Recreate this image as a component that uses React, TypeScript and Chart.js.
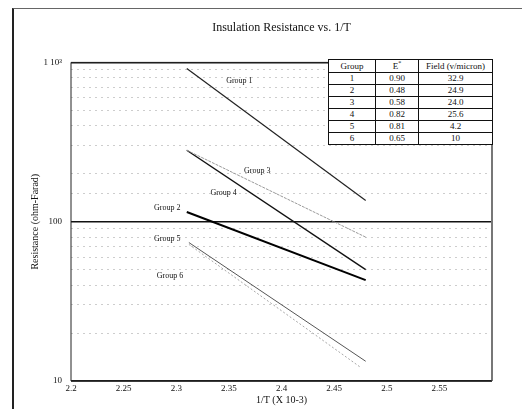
import React, { useEffect, useRef } from 'react';
import { Chart, registerables } from 'chart.js';

Chart.register(...registerables);

// ---- data ----
const chartTitle = 'Insulation Resistance vs. 1/T';
const xTitle = '1/T (X 10-3)';
const yTitle = 'Resistance (ohm-Farad)';

const group1X = [2.31, 2.48];
const group1Y = [917, 136];
const group2X = [2.31, 2.48];
const group2Y = [115, 43];
const group3X = [2.31, 2.48];
const group3Y = [281, 80];
const group4X = [2.31, 2.48];
const group4Y = [281, 50];
const group5X = [2.312, 2.48];
const group5Y = [74, 13.3];
const group6X = [2.312, 2.475];
const group6Y = [72, 12.2];

const groupNames = ['Group 1', 'Group 2', 'Group 3', 'Group 4', 'Group 5', 'Group 6'];
// label anchor positions in data units
const labelX = [2.36, 2.2915, 2.377, 2.345, 2.2915, 2.294];
const labelY = [760, 122, 208, 151, 77.6, 45.5];

const xTickValues = [2.2, 2.25, 2.3, 2.35, 2.4, 2.45, 2.5, 2.55];
const yTickLabels: Record<number, string> = { 10: '10', 100: '100', 1000: '1 10\u00B3' };

const tableGroups = ['1', '2', '3', '4', '5', '6'];
const tableE = ['0.90', '0.48', '0.58', '0.82', '0.81', '0.65'];
const tableField = ['32.9', '24.9', '24.0', '25.6', '4.2', '10'];

// ---- styles ----
const lineColors = ['#222222', '#000000', '#9a9a9a', '#111111', '#555555', '#a8a8a8'];
const lineWidths = [1.2, 2, 1, 1.4, 1, 1];
const lineDashes: number[][] = [[], [], [3, 1], [], [], [2, 2]];
const FONT = '"Liberation Serif", "Times New Roman", serif';

const toPoints = (xs: number[], ys: number[]) => xs.map((x, i) => ({ x, y: ys[i] }));

const seriesX = [group1X, group2X, group3X, group4X, group5X, group6X];
const seriesY = [group1Y, group2Y, group3Y, group4Y, group5Y, group6Y];

const frameAndLabels = {
  id: 'frameAndLabels',
  afterDatasetsDraw(chart: any) {
    const { ctx, chartArea, scales } = chart;
    ctx.save();
    // plot frame
    ctx.strokeStyle = '#222';
    ctx.lineWidth = 1;
    ctx.beginPath();
    ctx.moveTo(chartArea.left, chartArea.bottom);
    ctx.lineTo(chartArea.left, chartArea.top);
    ctx.lineTo(chartArea.right, chartArea.top);
    ctx.stroke();
    ctx.strokeStyle = '#777';
    ctx.lineWidth = 2;
    ctx.beginPath();
    ctx.moveTo(chartArea.right, chartArea.top);
    ctx.lineTo(chartArea.right, chartArea.bottom);
    ctx.stroke();
    ctx.strokeStyle = '#222';
    ctx.lineWidth = 1.5;
    ctx.beginPath();
    ctx.moveTo(chartArea.left, chartArea.bottom);
    ctx.lineTo(chartArea.right, chartArea.bottom);
    ctx.stroke();
    // group labels
    ctx.fillStyle = '#111';
    ctx.font = `8px ${FONT}`;
    ctx.textAlign = 'center';
    ctx.textBaseline = 'middle';
    groupNames.forEach((name, i) => {
      const px = scales.x.getPixelForValue(labelX[i]);
      const py = scales.y.getPixelForValue(labelY[i]);
      ctx.fillText(name, px, py);
    });
    ctx.restore();
  },
};

const isPow10 = (v: number) => Math.abs(Math.log10(v) - Math.round(Math.log10(v))) < 1e-9;

export default function App() {
  const ref = useRef<HTMLCanvasElement | null>(null);

  useEffect(() => {
    if (!ref.current) return;
    Chart.defaults.font.family = FONT;
    const chart = new Chart(ref.current, {
      type: 'line',
      data: {
        datasets: groupNames.map((name, i) => ({
          label: name,
          data: toPoints(seriesX[i], seriesY[i]),
          borderColor: lineColors[i],
          borderWidth: lineWidths[i],
          borderDash: lineDashes[i],
          pointRadius: 0,
          fill: false,
          tension: 0,
        })),
      },
      options: {
        responsive: false,
        animation: false,
        layout: { padding: { left: 25, right: 30, top: 0, bottom: 0 } },
        plugins: {
          legend: { display: false },
          tooltip: { enabled: false },
          title: {
            display: true,
            text: chartTitle,
            fullSize: false,
            color: '#111',
            font: { family: FONT, size: 12, weight: 'normal' },
            padding: { top: 21, bottom: 27 },
          },
        },
        scales: {
          x: {
            type: 'linear',
            min: 2.2,
            max: 2.6,
            afterBuildTicks: (scale: any) => {
              scale.ticks = xTickValues.map((v) => ({ value: v }));
            },
            afterFit: (scale: any) => {
              scale.height = 28;
            },
            grid: { display: false, drawTicks: false },
            border: { display: false },
            ticks: {
              padding: 2,
              color: '#111',
              font: { family: FONT, size: 9 },
              maxRotation: 0,
              autoSkip: false,
              callback: (v: any) => String(Math.round(Number(v) * 100) / 100),
            },
            title: {
              display: true,
              text: xTitle,
              color: '#111',
              font: { family: FONT, size: 10 },
              padding: { top: 0, bottom: 3 },
            },
          },
          y: {
            type: 'logarithmic',
            min: 10,
            max: 1000,
            afterFit: (scale: any) => {
              scale.width = 46;
            },
            grid: {
              drawTicks: false,
              color: (c: any) => {
                const v = c.tick ? c.tick.value : 0;
                if (!v) return 'rgba(0,0,0,0)';
                if (isPow10(v)) return '#111';
                return '#cdcdcd';
              },
              lineWidth: (c: any) => {
                const v = c.tick ? c.tick.value : 0;
                return v && isPow10(v) ? 1.5 : 1;
              },
            },
            border: {
              display: false,
              dash: (c: any) => {
                const v = c.tick ? c.tick.value : 0;
                if (!v || isPow10(v)) return [];
                return [2, 4];
              },
            },
            ticks: {
              padding: 9,
              color: '#111',
              autoSkip: false,
              font: { family: FONT, size: 9 },
              callback: (v: any) => {
                const n = Number(v);
                return isPow10(n) ? yTickLabels[Math.round(n)] ?? '' : '';
              },
            },
            title: {
              display: true,
              text: yTitle,
              color: '#111',
              font: { family: FONT, size: 10 },
              padding: { top: 4, bottom: 0 },
            },
          },
        },
      },
      plugins: [frameAndLabels],
    } as any);
    return () => chart.destroy();
  }, []);

  const cell: React.CSSProperties = {
    border: '1px solid #111',
    padding: 0,
    height: 11,
    lineHeight: '11px',
    textAlign: 'center',
    fontSize: 9,
  };

  return (
    <div style={{ position: 'absolute', left: 0, top: 0, width: 522, height: 409, background: '#fff', overflow: 'hidden', fontFamily: FONT }}>
      <div style={{ position: 'absolute', left: 12, top: 8, width: 520, height: 420, borderLeft: '2px solid #222', borderTop: '1px solid #666' }} />
      <canvas ref={ref} width={522} height={409} style={{ position: 'absolute', left: 0, top: 0 }} />
      <table
        style={{
          position: 'absolute',
          left: 328,
          top: 59,
          width: 164,
          borderCollapse: 'collapse',
          background: '#fff',
          color: '#111',
          tableLayout: 'fixed',
        }}
      >
        <colgroup>
          <col style={{ width: 47 }} />
          <col style={{ width: 43 }} />
          <col style={{ width: 74 }} />
        </colgroup>
        <tbody>
          <tr>
            <td style={{ ...cell, height: 12 }}>Group</td>
            <td style={{ ...cell, height: 12 }}>
              E<sup style={{ fontSize: 6, lineHeight: 0 }}>*</sup>
            </td>
            <td style={{ ...cell, height: 12 }}>Field (v/micron)</td>
          </tr>
          {tableGroups.map((g, i) => (
            <tr key={g}>
              <td style={cell}>{g}</td>
              <td style={cell}>{tableE[i]}</td>
              <td style={cell}>{tableField[i]}</td>
            </tr>
          ))}
        </tbody>
      </table>
    </div>
  );
}
